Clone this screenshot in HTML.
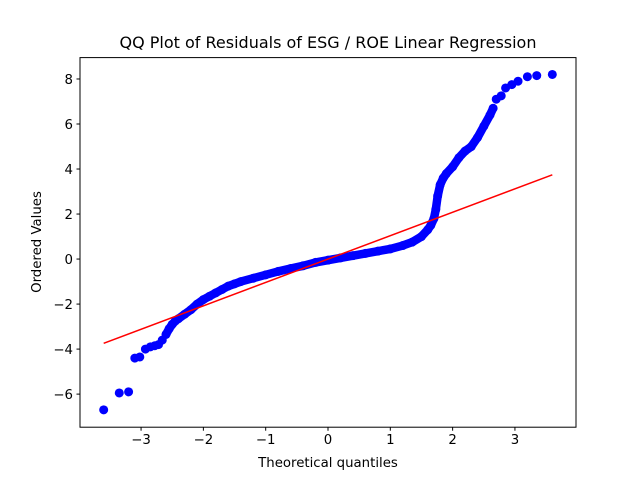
<!DOCTYPE html>
<html><head><meta charset="utf-8"><style>
body{margin:0;background:#fff;}
svg{display:block;font-family:"DejaVu Sans","Liberation Sans",sans-serif;}
</style></head><body>
<svg id="chart" width="640" height="480" viewBox="0 0 640 480">
<rect width="640" height="480" fill="#fff"/>
<text x="328" y="48" font-size="16" text-anchor="middle">QQ Plot of Residuals of ESG / ROE Linear Regression</text>
<g id="plot"></g>
<rect x="80" y="57.6" width="496" height="369.6" fill="none" stroke="#000" stroke-width="1"/>
<text x="328" y="467" font-size="13.3" text-anchor="middle">Theoretical quantiles</text>
<text transform="translate(41,242) rotate(-90)" font-size="13.3" text-anchor="middle">Ordered Values</text>
</svg>
<script>
const quantiles=[-3.6,-3.35,-3.2,-3.1,-3.02,-2.93,-2.85,-2.78,-2.72,-2.66,-2.6,-2.55,-2.5,-2.45,-2.4,-2.3,-2.2,-2.1,-2.0,-1.9,-1.8,-1.7,-1.6,-1.5,-1.4,-1.2,-1.0,-0.8,-0.6,-0.4,-0.2,0,0.2,0.4,0.6,0.8,1.0,1.2,1.35,1.5,1.6,1.65,1.7,1.73,1.76,1.8,1.85,1.9,2.0,2.1,2.2,2.3,2.4,2.5,2.6,2.65,2.7,2.78,2.85,2.95,3.05,3.2,3.35,3.6];
const residuals=[-6.7,-5.95,-5.9,-4.4,-4.35,-4.0,-3.9,-3.85,-3.8,-3.6,-3.35,-3.1,-2.9,-2.75,-2.65,-2.45,-2.25,-2.0,-1.8,-1.65,-1.5,-1.35,-1.2,-1.1,-1.0,-0.85,-0.7,-0.55,-0.42,-0.3,-0.15,-0.05,0.05,0.15,0.25,0.35,0.45,0.6,0.75,1.0,1.3,1.5,1.8,2.2,2.8,3.3,3.6,3.8,4.1,4.5,4.8,5.0,5.4,5.9,6.4,6.7,7.1,7.25,7.6,7.75,7.9,8.1,8.15,8.2];
const fitSlope=1.04, fitIntercept=0, fitRange=[-3.6,3.6];
const xTicks=[-3,-2,-1,0,1,2,3];
const yTicks=[-6,-4,-2,0,2,4,6,8];
const X0=80,X1=576,Y0=57.6,Y1=427.2,xmin=-3.98,xmax=3.98,ymin=-7.47,ymax=8.95;
const sx=v=>X0+(v-xmin)/(xmax-xmin)*(X1-X0);
const sy=v=>Y1-(v-ymin)/(ymax-ymin)*(Y1-Y0);
const NS="http://www.w3.org/2000/svg";
const g=document.getElementById('plot');
function mk(t,a){const e=document.createElementNS(NS,t);for(const k in a)e.setAttribute(k,a[k]);g.appendChild(e);return e;}
xTicks.forEach(v=>{
 const l=mk('line',{x1:sx(v),x2:sx(v),y1:Y1,y2:Y1+3.5,stroke:'#000'});
 
 
 const t=mk('text',{x:sx(v),y:Y1+17,'font-size':13.3,'text-anchor':'middle'});
 t.textContent=v<0?'\u2212'+(-v):v;
 
 
});
yTicks.forEach(v=>{
 const l=mk('line',{x1:X0-3.5,x2:X0,y1:sy(v),y2:sy(v),stroke:'#000'});
 
 
 const t=mk('text',{x:X0-7,y:sy(v)+5,'font-size':13.3,'text-anchor':'end'});
 t.textContent=v<0?'\u2212'+(-v):v;
 
 
});
// dense band in the central region where markers overlap
let d='';
for(let i=1;i<quantiles.length;i++){
 if(quantiles[i-1]>=-2.62 && quantiles[i]<=2.66){
  d+=`M${sx(quantiles[i-1])},${sy(residuals[i-1])}L${sx(quantiles[i])},${sy(residuals[i])}`;
 }
}
const band=mk('path',{d:d,stroke:'#0000ff','stroke-width':8.5,'stroke-linecap':'round',fill:'none'});


quantiles.forEach((q,i)=>{
 const c=mk('circle',{cx:sx(q),cy:sy(residuals[i]),r:4.5,fill:'#0000ff'});
 
 
});
const fl=mk('line',{x1:sx(fitRange[0]),y1:sy(fitIntercept+fitSlope*fitRange[0]),x2:sx(fitRange[1]),y2:sy(fitIntercept+fitSlope*fitRange[1]),stroke:'#ff0000','stroke-width':1.5});


</script>
</body></html>
